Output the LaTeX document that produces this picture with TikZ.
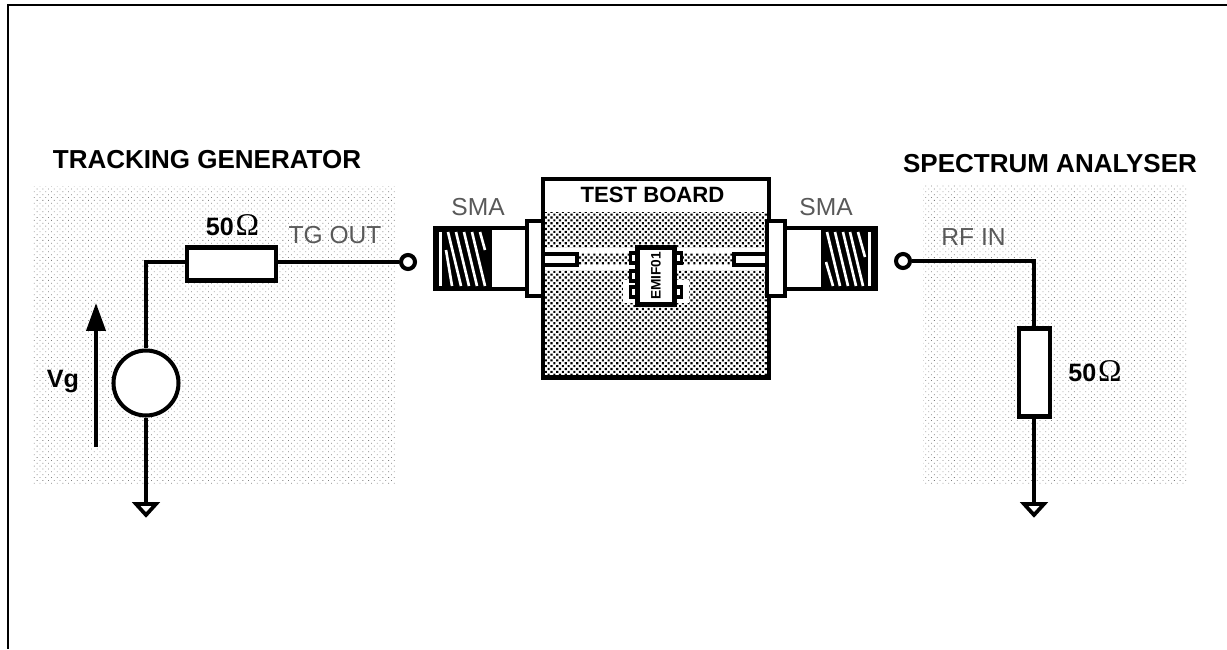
\documentclass[tikz,border=0pt]{standalone}
\usepackage{fontspec}
\setmainfont{Liberation Sans}
\newfontfamily\omegafont{Liberation Serif}
\usetikzlibrary{arrows.meta, positioning, patterns.meta}
\definecolor{stipplegray}{HTML}{808080}

\begin{document}
\begin{tikzpicture}[
        x=0.02cm,
        y=-0.02cm,
        wire/.style={
            draw=black,
            line width=2.1pt
        },
        partline/.style={
            draw=black,
            line width=2.3pt
        },
        lightarea/.style={
            pattern={Dots[angle=45,distance=2.3pt,radius=0.32pt]},
            pattern color=stipplegray
        },
        darkarea/.style={
            pattern={Dots[angle=45,distance=2.3pt,radius=0.85pt]},
            pattern color=black
        },
        resistorbox/.style={
            partline,
            fill=white,
            inner sep=0pt
        },
        terminal/.style={
            circle,
            draw=black,
            line width=2.3pt,
            fill=white,
            inner sep=0pt,
            minimum size=0.28cm
        },
        padbox/.style={
            draw=black,
            line width=1.8pt,
            fill=white,
            inner sep=0pt,
            minimum width=0.14cm,
            minimum height=0.2cm
        },
        headlabel/.style={
            font=\fontsize{14.8}{16}\selectfont\bfseries
        },
        valuelabel/.style={
            font=\fontsize{14.3}{16}\selectfont
        },
        greylabel/.style={
            text=black!65,
            font=\fontsize{14}{16}\selectfont
        }
    ]
        \useasboundingbox (0,0) rectangle (1227,649);

        % Frame
        \draw[line width=1.6pt] (1227,5) -- (8,5) -- (8,649);

        % Shaded areas
        \path[lightarea] (32,186) rectangle (395,484);
        \path[lightarea] (923,185) rectangle (1188,483);

        % Test board
        \path[darkarea] (543,212) rectangle (769,378);
        \path[fill=white] (543,248) rectangle (769,270);
        \path[darkarea] (543,253) rectangle (769,264);
        \path[fill=white] (623,280) rectangle (637,303);
        \path[fill=white] (675,280) rectangle (689,303);
        \node[partline, inner sep=0pt, minimum width=4.52cm, minimum height=3.98cm] (board) at (656,278) {};
        \node[headlabel, font=\fontsize{12.6}{16}\selectfont\bfseries] (boardtitle) at (652.5,195) {TEST BOARD};

        % Chip
        \node[padbox] (padla) at (634,258) {};
        \node[padbox] (padlb) at (634,276) {};
        \node[padbox] (padlc) at (634,292) {};
        \node[padbox] (padra) at (678,258) {};
        \node[padbox] (padrb) at (678,292) {};
        \node[partline, fill=white, inner sep=0pt, minimum width=0.74cm, minimum height=1.14cm] (chip) at (656,276) {};
        \node[rotate=90, font=\fontsize{7.8}{9}\selectfont\bfseries] (chiplabel) at (656,276) {EMIF01};

        % Left SMA
        \draw[partline, fill=white] (490,228) rectangle (527,289);
        \draw[partline, fill=white] (527,221) rectangle (543,296);
        \draw[partline, fill=white] (543,254) rectangle (577,265);
        \path[fill=black] (435,228) rectangle (490,289);
        \begin{scope}[white, line width=1.5pt]
            \draw (440.5,232) -- (440.5,286);
            \foreach \xtop in {448,456,464,472} {
                \draw (\xtop,232) -- (\xtop+13,286);
            }
            \draw (480,232) -- (485,250);
            \draw (446,250) -- (452,286);
        \end{scope}
        \draw[partline] (435,228) rectangle (490,289);
        \node[greylabel] (smaleft) at (478,207) {SMA};

        % Right SMA
        \draw[partline, fill=white] (785,228) rectangle (823,289);
        \draw[partline, fill=white] (767,221) rectangle (785,296);
        \draw[partline, fill=white] (734,254) rectangle (767,265);
        \path[fill=black] (823,228) rectangle (876,289);
        \begin{scope}[white, line width=1.5pt]
            \draw (869.5,232) -- (869.5,286);
            \foreach \xtop in {827,835,843,850} {
                \draw (\xtop,232) -- (\xtop+13,286);
            }
            \draw (858,232) -- (865,257);
            \draw (826,262) -- (833,286);
        \end{scope}
        \draw[partline] (823,228) rectangle (876,289);
        \node[greylabel] (smaright) at (826,207) {SMA};

        % Tracking generator
        \node[headlabel] (tglabel) at (207,160) {TRACKING GENERATOR};
        \node[resistorbox, minimum width=1.78cm, minimum height=0.66cm] (rgen) at (231.5,264) {};
        \node[terminal] (tgout) at (408,262) {};
        \node[circle, partline, fill=white, inner sep=0pt, minimum size=1.3cm] (source) at (146,383) {};
        \coordinate (cornergen) at (146,262);
        \coordinate (groundgen) at (146,504);
        \draw[wire] (source.north) -- (cornergen) -- (rgen.west |- cornergen);
        \draw[wire] (rgen.east |- tgout) -- (tgout);
        \draw[wire] (source) -- (groundgen);
        \draw[line width=2.1pt, fill=white] (groundgen) ++(-10,0) -- ++(20,0) -- ++(-10,11) -- cycle;
        \node[valuelabel] (valgen) at (232.5,225) {\textbf{50}\kern1pt{\omegafont\fontsize{18}{18}\selectfont Ω}};
        \node[greylabel] (tgoutlabel) at (335,235) {TG OUT};
        \coordinate (vgfoot) at (96,447);
        \coordinate (vgtip) at (96,303);
        \draw[-{Triangle[length=0.56cm,width=0.38cm]}, line width=2.3pt] (vgfoot) -- (vgtip);
        \node[valuelabel, font=\fontsize{14.3}{16}\selectfont\bfseries] (vglabel) at (63,382) {Vg};

        % Spectrum analyser
        \node[headlabel] (salabel) at (1050,164) {SPECTRUM ANALYSER};
        \node[terminal] (rfin) at (903,261) {};
        \node[resistorbox, minimum width=0.62cm, minimum height=1.76cm] (rload) at (1034.5,372.5) {};
        \coordinate (cornerload) at (1034,261);
        \coordinate (groundload) at (1034,504);
        \draw[wire] (rfin) -- (cornerload) -- (rload.north -| cornerload);
        \draw[wire] (rload.south -| groundload) -- (groundload);
        \draw[line width=2.1pt, fill=white] (groundload) ++(-10,0) -- ++(20,0) -- ++(-10,11) -- cycle;
        \node[valuelabel] (valload) at (1095,371) {\textbf{50}\kern1pt{\omegafont\fontsize{18}{18}\selectfont Ω}};
        \node[greylabel] (rfinlabel) at (973.5,237) {RF IN};
\end{tikzpicture}
\end{document}
